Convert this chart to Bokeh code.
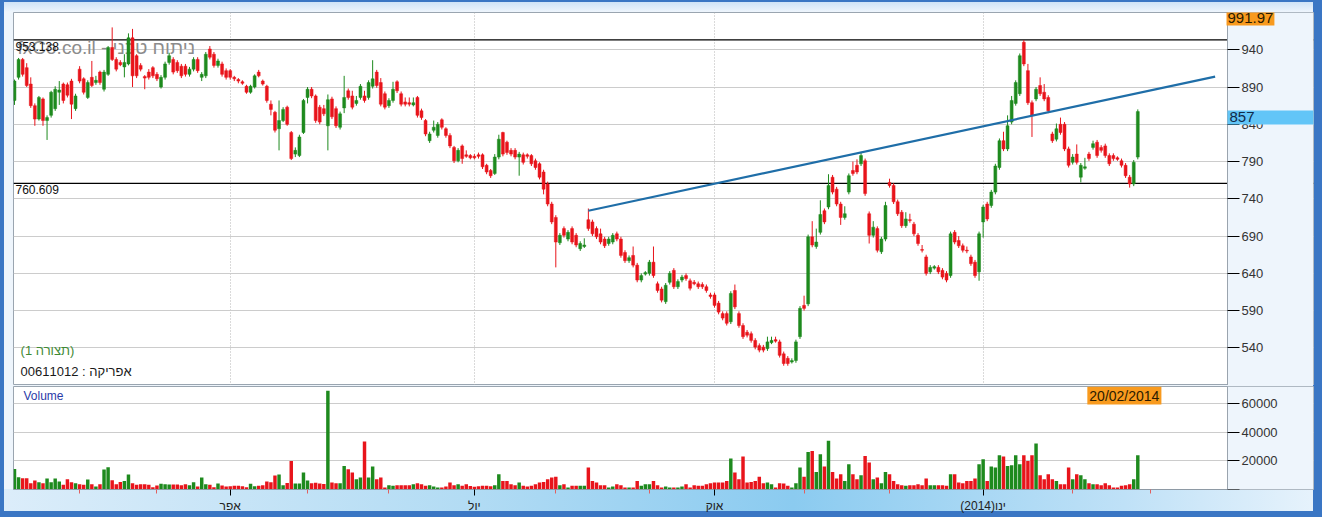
from bokeh.plotting import figure
from bokeh.models import Range1d, FixedTicker, Span, Label, ColumnDataSource, BoxAnnotation
from bokeh.layouts import column
from bokeh.embed import file_html
from bokeh.resources import INLINE

FONT = "Liberation Sans"

opens = [872, 903, 927, 916, 894, 865, 847, 874, 845, 852,
         861, 883, 894, 893, 898, 861, 914, 901, 876, 903,
         896, 910, 887, 907, 943, 927, 923, 917, 921, 956,
         932, 919, 904, 910, 916, 907, 890, 903, 923, 927,
         923, 918, 918, 907, 914, 927, 903, 905, 941, 934,
         919, 921, 912, 912, 903, 900, 897, 891, 883, 890,
         910, 898, 891, 867, 856, 834, 845, 863, 829, 800,
         798, 829, 876, 887, 878, 863, 861, 838, 874, 861,
         836, 862, 885, 878, 868, 876, 878, 876, 891, 910,
         896, 881, 865, 872, 897, 881, 870, 869, 866, 876,
         858, 845, 818, 832, 825, 846, 834, 825, 809, 791,
         811, 799, 798, 797, 799, 799, 785, 778, 774, 796,
         829, 816, 805, 805, 796, 799, 799, 798, 791, 787,
         776, 760, 733, 715, 681, 700, 686, 700, 691, 673,
         676, 712, 709, 700, 693, 686, 680, 682, 693, 686,
         668, 657, 664, 651, 631, 639, 640, 655, 626, 619,
         602, 628, 644, 622, 631, 637, 630, 628, 626, 625,
         622, 611, 611, 600, 586, 586, 575, 617, 586, 570,
         561, 559, 550, 543, 541, 539, 547, 551, 548, 532,
         526, 521, 523, 555, 597, 599, 689, 676, 695, 724,
         729, 769, 753, 733, 715, 749, 778, 785, 787, 791,
         720, 691, 700, 669, 686, 762, 758, 736, 722, 704,
         712, 706, 691, 672, 662, 642, 647, 648, 644, 640,
         637, 695, 684, 677, 671, 662, 655, 642, 709, 733,
         731, 749, 782, 818, 807, 843, 868, 881, 950, 912,
         869, 874, 892, 883, 876, 827, 820, 840, 840, 807,
         789, 800, 769, 781, 800, 809, 816, 809, 811, 798,
         798, 795, 791, 785, 769, 760, 796]
closes = [898, 927, 907, 892, 865, 847, 876, 845, 849, 883,
          887, 886, 872, 879, 867, 878, 898, 883, 896, 892,
          899, 896, 910, 943, 927, 914, 920, 923, 956, 905,
          905, 914, 902, 903, 905, 901, 903, 921, 932, 910,
          912, 905, 907, 914, 927, 912, 907, 934, 930, 919,
          925, 907, 903, 903, 901, 898, 895, 883, 891, 905,
          905, 894, 872, 860, 832, 845, 860, 840, 794, 805,
          823, 872, 887, 878, 845, 843, 854, 873, 850, 838,
          854, 876, 876, 863, 872, 891, 872, 896, 901, 892,
          867, 863, 872, 887, 885, 867, 867, 867, 869, 852,
          849, 827, 827, 836, 840, 836, 825, 811, 791, 805,
          794, 797, 795, 795, 797, 783, 776, 771, 796, 820,
          800, 802, 800, 796, 800, 789, 797, 787, 782, 769,
          753, 733, 709, 682, 691, 691, 695, 682, 678, 680,
          678, 700, 693, 689, 682, 677, 686, 691, 686, 664,
          657, 661, 651, 631, 637, 641, 655, 637, 617, 604,
          624, 640, 622, 629, 635, 633, 620, 626, 622, 622,
          617, 609, 597, 588, 580, 573, 613, 595, 570, 555,
          557, 550, 541, 537, 537, 548, 550, 549, 530, 519,
          519, 523, 548, 593, 593, 689, 678, 682, 719, 709,
          758, 749, 733, 715, 720, 771, 774, 776, 798, 747,
          691, 702, 671, 686, 731, 758, 736, 720, 704, 713,
          711, 693, 680, 671, 640, 648, 649, 642, 635, 631,
          693, 682, 677, 671, 670, 653, 637, 693, 729, 713,
          749, 784, 818, 807, 838, 872, 896, 932, 921, 869,
          852, 887, 881, 874, 858, 818, 834, 829, 807, 785,
          796, 789, 785, 783, 794, 814, 798, 805, 798, 787,
          794, 793, 785, 771, 760, 789, 857]
highs = [900, 929, 929, 922, 903, 868, 878, 876, 852, 885,
         891, 898, 896, 896, 901, 881, 918, 903, 899, 925,
         905, 912, 913, 945, 970, 930, 926, 934, 962, 968,
         934, 922, 906, 914, 918, 910, 906, 924, 936, 930,
         926, 921, 921, 917, 930, 930, 910, 937, 945, 937,
         928, 924, 915, 914, 905, 902, 899, 893, 893, 907,
         913, 900, 893, 872, 858, 872, 863, 865, 831, 809,
         826, 874, 890, 890, 880, 866, 866, 880, 877, 864,
         857, 905, 888, 885, 878, 894, 885, 899, 926, 913,
         902, 884, 875, 897, 899, 884, 876, 876, 876, 878,
         861, 847, 830, 845, 843, 848, 836, 828, 811, 808,
         813, 805, 800, 800, 802, 801, 787, 780, 800, 826,
         830, 818, 808, 808, 803, 802, 801, 800, 794, 789,
         779, 763, 736, 718, 694, 703, 698, 703, 694, 683,
         687, 727, 712, 703, 700, 689, 689, 694, 696, 689,
         671, 664, 676, 654, 640, 643, 658, 676, 629, 622,
         627, 643, 647, 632, 638, 640, 633, 631, 629, 628,
         625, 614, 614, 603, 589, 589, 616, 625, 589, 573,
         564, 562, 553, 546, 544, 555, 555, 555, 551, 535,
         529, 526, 551, 596, 610, 692, 710, 700, 738, 727,
         773, 772, 756, 736, 730, 774, 790, 793, 803, 794,
         723, 710, 703, 689, 736, 767, 761, 739, 725, 722,
         720, 709, 694, 678, 665, 651, 651, 651, 647, 643,
         696, 698, 690, 680, 676, 665, 658, 696, 732, 736,
         752, 787, 821, 830, 852, 878, 899, 935, 953, 921,
         872, 890, 903, 894, 879, 830, 841, 849, 843, 810,
         800, 813, 788, 795, 803, 818, 819, 812, 814, 801,
         801, 797, 794, 788, 772, 792, 860]
lows = [866, 900, 904, 890, 862, 838, 845, 838, 819, 849,
        858, 866, 868, 876, 847, 858, 895, 880, 874, 890,
        893, 893, 884, 905, 925, 911, 918, 903, 919, 890,
        902, 911, 887, 900, 902, 898, 888, 900, 920, 907,
        909, 902, 904, 904, 911, 909, 898, 902, 927, 916,
        916, 904, 900, 900, 898, 895, 893, 881, 881, 888,
        903, 892, 869, 852, 829, 805, 843, 838, 792, 796,
        796, 827, 868, 875, 842, 840, 851, 805, 847, 835,
        833, 855, 873, 860, 865, 873, 869, 873, 888, 889,
        864, 860, 862, 869, 882, 864, 864, 864, 864, 849,
        846, 824, 815, 829, 822, 833, 822, 808, 788, 789,
        787, 795, 793, 793, 794, 780, 773, 768, 772, 793,
        797, 799, 797, 793, 771, 786, 794, 784, 779, 766,
        746, 730, 706, 648, 678, 688, 683, 679, 675, 670,
        674, 697, 690, 686, 679, 674, 677, 679, 683, 661,
        654, 654, 648, 628, 628, 637, 637, 634, 614, 601,
        599, 625, 619, 619, 628, 630, 617, 624, 619, 619,
        614, 606, 594, 585, 577, 570, 572, 592, 567, 552,
        554, 547, 538, 534, 534, 536, 545, 547, 527, 516,
        516, 519, 520, 552, 590, 596, 675, 673, 692, 706,
        726, 746, 730, 705, 712, 746, 771, 773, 784, 744,
        680, 688, 668, 666, 683, 755, 733, 717, 701, 701,
        708, 690, 677, 668, 637, 639, 645, 639, 632, 628,
        634, 679, 674, 668, 667, 650, 634, 630, 688, 710,
        728, 746, 779, 804, 804, 840, 865, 878, 918, 866,
        823, 871, 878, 871, 855, 815, 817, 826, 804, 782,
        786, 786, 762, 779, 791, 806, 795, 802, 795, 784,
        791, 791, 782, 768, 755, 757, 793]
volumes = [14400, 8600, 7900, 7900, 4400, 6300, 5100, 4400, 7700, 5100,
           7700, 5600, 3300, 7200, 5100, 4400, 3700, 3300, 7000, 3700,
           2100, 3700, 14000, 15600, 6500, 3700, 5300, 6000, 10500, 4400,
           3300, 3700, 3700, 3300, 1600, 2800, 4000, 3700, 3500, 3500,
           3500, 3000, 3700, 3000, 5000, 2100, 8400, 3700, 3300, 1600,
           4200, 2800, 2100, 2300, 2600, 2600, 2300, 1600, 4000, 2300,
           2600, 3000, 5600, 5100, 9800, 10500, 3000, 4600, 20000, 4200,
           4200, 11900, 6300, 4400, 4700, 4200, 3900, 69000, 4900, 4400,
           4400, 16500, 14200, 11900, 7200, 8400, 33500, 8400, 16000, 7200,
           8400, 1400, 3000, 2600, 3000, 3000, 3000, 3000, 3700, 4400,
           3700, 2600, 3000, 2100, 1400, 1400, 2100, 4900, 3000, 3700,
           2600, 3700, 2500,
           2000, 2200, 2600, 2600, 2200, 3000, 10700, 6000, 6000, 3700,
           3000, 4900, 2600, 2100, 2600, 3700, 4900, 5300, 7200, 8400,
           9000, 3000, 3700, 1400, 2600, 2600, 2600, 2600, 15400, 6000,
           4900, 3000, 3000, 1400, 2100, 3700, 3000, 1400, 1400, 1400,
           6000, 2600, 3700, 3700, 6000, 3000, 1400, 2100, 1400, 1400,
           1400, 2100, 3700, 1400, 3000, 2600,
           2600, 3700, 4400, 4900, 4900, 4900, 6000, 21600, 11900, 7200,
           23000, 4900, 5300, 6000, 9000, 4400, 4900, 3700, 1400, 4400,
           4200, 2600, 1400, 4400, 15400, 9000, 26300, 27000, 12300, 24600,
           16000, 34000, 12300, 7700, 10700, 6000, 17700, 10700, 7200, 10000,
           23500, 18800, 7200, 8400, 4400, 12300, 10700, 6000, 3700, 3000,
           2600, 3000, 3000, 3700, 3000, 7700,
           3000, 3000, 3000, 3000, 2600, 10700, 10700, 4900, 4400, 6000,
           6000, 7700, 17700, 21200, 6000, 16000, 15400, 24000, 23000, 16500,
           17000, 24000, 17700, 24000, 20000, 24000, 32100, 10000, 7200, 10700,
           7200, 6000, 3700, 3700, 15400, 7200, 10700, 10000, 7200, 4400,
           3700, 3700, 3000, 4400, 3000, 1400, 1400, 2600, 3000, 3700,
           7200, 24000]

month_ticks = [53, 113, 172, 238]
month_labels = ["אפר", "יול", "אוק", "ינו(2014)\u200f"]
minor_month_ticks = [16, 35, 72, 92, 133, 156, 194, 215, 260, 279]
price_ticks = [540, 590, 640, 690, 740, 790, 840, 890, 940]
volume_ticks = [0, 20000, 40000, 60000]
level_high = 953.138
level_low = 760.609
trend_x = [141, 295]
trend_y = [724, 904]
price_top = 991.97
last_price = 857
last_date = "20/02/2014"
watermark = "fxCo.co.il - ניתוח טכני"
pattern_label = "(תצורה 1)"
symbol_label = "00611012 : אפריקה"

GREEN = "#1e8a1e"
RED = "#e8141b"
PANEL = "#eef5fc"
BLUE = "#3a76c4"
n = len(closes)
src = ColumnDataSource(dict(
    x=list(range(n)), o=opens, h=highs, l=lows, c=closes,
    top=[max(a, b) for a, b in zip(opens, closes)],
    bottom=[min(a, b) for a, b in zip(opens, closes)],
    v=volumes,
    color=[GREEN if c >= o else RED for o, c in zip(opens, closes)],
))

W = 1322
X0 = -0.246
AXIS_X = 298.03
xr = Range1d(X0, 319.17)

bg_price = (f"linear-gradient({BLUE},{BLUE}) left top / 4px 100% no-repeat, "
            f"linear-gradient({BLUE},{BLUE}) right top / 9px 100% no-repeat, "
            f"linear-gradient(to bottom, {BLUE} 0px, {BLUE} 2px, #cfe3f7 2px, {PANEL} 12px) left top / 100% 12px no-repeat, "
            f"{PANEL}")
bg_vol = (f"linear-gradient({BLUE},{BLUE}) left top / 4px 100% no-repeat, "
          f"linear-gradient({BLUE},{BLUE}) right top / 9px 100% no-repeat, "
          f"linear-gradient({BLUE},{BLUE}) left bottom / 100% 6px no-repeat, "
          f"linear-gradient(to right, #dcedfa 0%, #b3dcf4 35%, #8bcbf0 60%, #bfe1f7 85%, #e8f3fc 100%) left 0 bottom 6px / 100% 22px no-repeat, "
          f"{PANEL}")

p = figure(width=W, height=385, x_range=xr, y_range=Range1d(489.5, 990),
           x_axis_location=None, y_axis_location="right",
           toolbar_location=None, output_backend="svg",
           min_border_left=13, min_border_right=9, min_border_top=12, min_border_bottom=0,
           background_fill_color="white", border_fill_alpha=0,
           outline_line_color="#9aa5b0", outline_line_width=1,
           styles={"background": bg_price})

p.xgrid.ticker = FixedTicker(ticks=month_ticks)
p.xgrid.grid_line_color = "#b5b5b5"
p.xgrid.grid_line_dash = "1 2"
p.ygrid.ticker = FixedTicker(ticks=price_ticks)
p.ygrid.grid_line_color = "#cccccc"
p.ygrid.bounds = (X0, AXIS_X)

ax = p.yaxis[0]
ax.fixed_location = AXIS_X
ax.ticker = FixedTicker(ticks=price_ticks)
ax.axis_line_color = "#9aa4ae"
ax.major_tick_line_color = "black"
ax.major_tick_out = 12
ax.major_tick_in = 0
ax.minor_tick_line_color = None
ax.major_label_text_font = FONT
ax.major_label_text_font_size = "13px"
ax.major_label_text_color = "#333333"
ax.major_label_standoff = 2

p.add_layout(Label(x=0.75, y=943, text=watermark, text_font=FONT, text_font_size="19px",
                   text_color="#8c8c8c", text_baseline="middle", level="underlay"))
p.add_layout(Span(location=level_high, dimension="width", line_color="black", line_width=1.3, level="underlay"))
p.add_layout(Span(location=level_low, dimension="width", line_color="black", line_width=1.3, level="underlay"))
p.add_layout(BoxAnnotation(left=AXIS_X, fill_color=PANEL, fill_alpha=1, line_color=None, level="underlay"))

p.segment(x0="x", y0="h", x1="x", y1="l", source=src, line_color="color", line_width=1)
p.vbar(x="x", width=0.72, top="top", bottom="bottom", source=src,
       fill_color="color", line_color="color", line_width=0.5)
p.line(trend_x, trend_y, line_color="#1f6ea8", line_width=2.2)

p.add_layout(Label(x=0.25, y=level_high, text=f"{level_high}", y_offset=-2, text_baseline="top",
                   text_font=FONT, text_font_size="12px", text_color="#111111"))
p.add_layout(Label(x=0.25, y=level_low, text=f"{level_low}", y_offset=-2, text_baseline="top",
                   text_font=FONT, text_font_size="12px", text_color="#111111"))
p.add_layout(Label(x=1.5, y=536, text=pattern_label, text_baseline="middle",
                   text_font=FONT, text_font_size="13px", text_color="#3f8a35"))
p.add_layout(Label(x=1.5, y=508, text=symbol_label, text_baseline="middle",
                   text_font=FONT, text_font_size="13px", text_color="#1a1a1a"))

p.add_layout(Label(x=297.8, y=990, y_offset=2, text=f"{price_top}", text_baseline="top",
                   text_font=FONT, text_font_size="15px", text_color="#2a1a00",
                   background_fill_color="#f89a1e", padding=dict(left=1, right=1, top=2, bottom=3)))
p.add_layout(Label(x=AXIS_X, y=last_price, y_offset=1, text=f"{last_price}", text_baseline="top",
                   text_font=FONT, text_font_size="15px", text_color="#102a4a",
                   background_fill_color="#62c5f7", padding=dict(left=2, right=70, top=1, bottom=3)))

v = figure(width=W, height=132, x_range=xr, y_range=Range1d(0, 72000),
           x_axis_location="below", y_axis_location="right",
           toolbar_location=None, output_backend="svg",
           min_border_left=13, min_border_right=9, min_border_top=1, min_border_bottom=28,
           background_fill_color="white", border_fill_alpha=0,
           outline_line_color="#9aa5b0", outline_line_width=1,
           styles={"background": bg_vol})

v.add_layout(BoxAnnotation(left=AXIS_X, fill_color=PANEL, fill_alpha=1, line_color=None, level="underlay"))
v.vbar(x="x", width=0.85, top="v", bottom=0, source=src, fill_color="color", line_color=None)
v.xgrid.visible = False
v.ygrid.ticker = FixedTicker(ticks=[20000, 40000, 60000])
v.ygrid.grid_line_color = "#cccccc"
v.ygrid.bounds = (X0, AXIS_X)

vy = v.yaxis[0]
vy.fixed_location = AXIS_X
vy.ticker = FixedTicker(ticks=volume_ticks)
vy.major_label_overrides = {0: ""}
vy.axis_line_color = "#9aa4ae"
vy.major_tick_line_color = "black"
vy.major_tick_out = 12
vy.major_tick_in = 0
vy.minor_tick_line_color = None
vy.major_label_text_font = FONT
vy.major_label_text_font_size = "13px"
vy.major_label_text_color = "#333333"
vy.major_label_standoff = 2

vx = v.xaxis[0]
vx.ticker = FixedTicker(ticks=month_ticks, minor_ticks=minor_month_ticks)
vx.major_label_overrides = {t: lab for t, lab in zip(month_ticks, month_labels)}
vx.bounds = (X0, AXIS_X)
vx.axis_line_color = "#8e9aa5"
vx.major_tick_line_color = "black"
vx.major_tick_out = 6
vx.major_tick_in = 0
vx.minor_tick_line_color = "#e06060"
vx.minor_tick_out = 4
vx.minor_tick_in = 0
vx.major_label_text_font = FONT
vx.major_label_text_font_size = "12px"
vx.major_label_text_color = "#222222"
vx.major_label_standoff = 3

v.add_layout(Label(x=2.2, y=65700, text="Volume", text_baseline="middle",
                   text_font=FONT, text_font_size="12px", text_color="#2a3aa8"))
v.add_layout(Label(x=272.7, y=72000, text=last_date, text_baseline="top", text_align="center",
                   text_font=FONT, text_font_size="14px", text_color="#2a1a00",
                   background_fill_color="#f89a1e", padding=dict(left=2, right=2, top=1, bottom=1)))

layout = column(p, v)
open("out.html", "w").write(file_html(layout, INLINE))
